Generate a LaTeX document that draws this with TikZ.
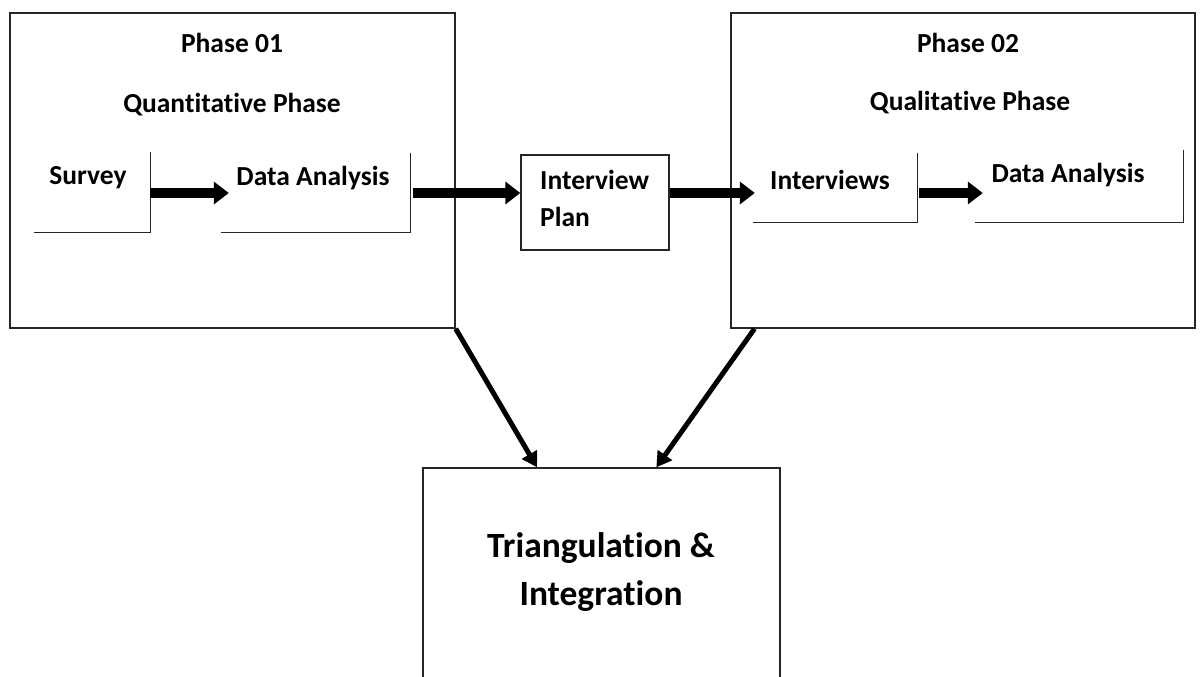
\documentclass[tikz,border=0pt]{standalone}
\usepackage{fontspec}
\setmainfont{Carlito}[Ligatures=NoCommon]
\usetikzlibrary{arrows.meta,calc}
\begin{document}
\begin{tikzpicture}[x=1pt,y=-1pt,
  box/.style={draw=black!85,line width=1.4pt,rectangle,inner sep=0pt},
  hidden/.style={rectangle,inner sep=0pt},
  lbl/.style={font=\bfseries\fontsize{27.5}{33}\selectfont,inner sep=0pt},
  big/.style={font=\bfseries\fontsize{35.5}{48}\selectfont,inner sep=0pt,align=center},
  edge/.style={draw=black!85,line width=1.4pt},
  fat/.style={line width=10pt,-{Triangle[length=15pt,width=22pt]}},
  diag/.style={line width=5pt,-{Triangle[length=15pt,width=17pt]}}]
\useasboundingbox (0,0) rectangle (1200,677);
\begin{scope}
\clip (0,0) rectangle (1200,677);
% phase boxes
\node[box,minimum width=445pt,minimum height=315pt] (p1) at (232.5,170.5) {};
\node[box,minimum width=464pt,minimum height=315pt] (p2) at (963,170.5) {};
\node[box,minimum width=357pt,minimum height=232pt] (tri) at (601.5,584) {};
% partial boxes
\node[hidden,minimum width=116pt,minimum height=80pt] (sv) at (92,192) {};
\node[hidden,minimum width=189pt,minimum height=79pt] (da1) at (315.5,192.5) {};
\node[box,minimum width=148pt,minimum height=95pt] (ip) at (595,202.5) {};
\node[hidden,minimum width=164pt,minimum height=69pt] (iv) at (835,187.5) {};
\node[hidden,minimum width=208pt,minimum height=72pt] (da2) at (1079,186) {};
\draw[edge] (sv.north east) -- (sv.south east) -- (sv.south west);
\draw[edge] (da1.north east) -- (da1.south east) -- (da1.south west);
\draw[edge] (iv.north east) -- (iv.south east) -- (iv.south west);
\draw[edge] (da2.north east) -- (da2.south east) -- (da2.south west);
% texts
\node[lbl] (t1) at (232,43) {Phase 01};
\node[lbl] (t2) at (232,105) {Quantitative Phase};
\node[lbl] (t3) at (968,43) {Phase 02};
\node[lbl] (t4) at (970,103) {Qualitative Phase};
\node[lbl] (tsv) at (88,178) {Survey};
\node[lbl] (tda1) at (313,178) {Data Analysis};
\node[lbl,anchor=west] (tip1) at (540,180) {Interview};
\node[lbl,anchor=west] (tip2) at (540,217) {Plan};
\node[lbl] (tiv) at (830,180) {Interviews};
\node[lbl] (tda2) at (1068,175) {Data Analysis};
\node[big] (ttri) at (601,572) {Triangulation \&\\Integration};
% arrows
\coordinate (ay) at (0,193);
\draw[fat] (sv.east |- ay) -- ([xshift=8pt]da1.west |- ay);
\draw[fat] ([xshift=3pt]da1.east |- ay) -- (ip.west |- ay);
\draw[fat] (ip.east |- ay) -- ([xshift=2pt]iv.west |- ay);
\draw[fat] ([xshift=2pt]iv.east |- ay) -- ([xshift=8pt]da2.west |- ay);
\draw[diag] (p1.south east) -- ($(tri.north west)!0.32!(tri.north east)$);
\draw[diag] ($(p2.south west)!0.052!(p2.south east)$) -- ($(tri.north west)!0.653!(tri.north east)$);
\end{scope}
\end{tikzpicture}
\end{document}
